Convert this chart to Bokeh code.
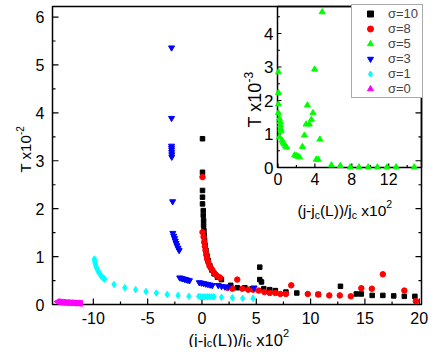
import math
from bokeh.plotting import figure
from bokeh.models import Range1d, Label, Legend, LegendItem
from bokeh.core.properties import value
from bokeh.embed import file_html
from bokeh.resources import INLINE

# ---------------- data ----------------
s10_x = [0.05, 0.05, 0.05, 0.05, 0.05, 0.12, 0.12, 0.15, 0.15, 0.18, 0.21, 0.24, 0.30, 0.37, 0.46, 0.58,
         0.73, 0.91, 1.12, 1.43, 1.79, 2.65, 3.25, 3.95, 4.62, 5.32, 5.32, 5.48, 5.69, 6.24, 6.76, 7.73,
         8.73, 10.71, 12.75, 14.21, 14.67, 15.67, 16.65, 17.65, 18.63, 19.60]
s10_y = [3.46, 2.76, 2.38, 2.24, 2.10, 1.96, 1.86, 1.75, 1.65, 1.54, 1.44, 1.34, 1.23, 1.13, 1.02, 0.92,
         0.81, 0.72, 0.64, 0.57, 0.52, 0.40, 0.35, 0.35, 0.33, 0.78, 0.52, 0.47, 0.33, 0.31, 0.29, 0.26,
         0.24, 0.21, 0.38, 0.22, 0.22, 0.19, 0.19, 0.18, 0.17, 0.17]

s8_x = [0.05, 0.05, 0.15, 0.21, 0.27, 0.33, 0.39, 0.48, 0.58, 0.69, 0.82, 0.97, 1.12, 1.28, 1.49, 1.67,
        2.34, 2.80, 3.25, 3.71, 4.26, 4.71, 5.23, 5.75, 6.24, 6.76, 7.21, 7.73, 8.22, 9.74, 10.71,
        11.72, 12.69, 13.70, 14.67, 15.64, 16.65, 18.63, 19.69]
s8_y = [2.66, 1.51, 1.41, 1.30, 1.21, 1.13, 1.04, 0.95, 0.88, 0.81, 0.76, 0.71, 0.66, 0.62, 0.58, 0.56,
        0.35, 0.33, 0.52, 0.33, 0.31, 0.31, 0.29, 0.26, 0.24, 0.24, 0.22, 0.22, 0.40, 0.22, 0.21,
        0.19, 0.19, 0.17, 0.34, 0.33, 0.63, 0.29, 0.07]

s5_x = [0.05, 0.05, 0.05, 0.05, 0.16, 0.23, 0.27, 0.30, 0.34, 0.16, 0.45, 0.55, 0.66, 0.80, 0.94,
        1.80, 1.97, 2.15, 2.33, 2.65, 2.87, 3.05, 3.19, 3.40, 3.62, 3.79, 3.97, 4.15, 4.36, 4.54,
        4.79, 5.79, 6.75, 7.82, 8.78, 9.78, 10.77, 11.80, 12.80, 14.76]
s5_y = [2.85, 2.23, 1.89, 1.63, 1.46, 1.36, 1.26, 1.16, 1.09, 0.91, 0.81, 0.75, 0.70, 0.64, 0.60,
        0.37, 0.35, 0.33, 0.31, 0.62, 0.96, 1.29, 1.86, 1.29, 1.43, 1.63, 2.93, 0.24, 0.24, 0.84,
        4.64, 0.07, 0.05, 0.01, 0.01, 0.01, 0.01, 0.01, 0.01, 0.01]

s3_x = [-2.80, -2.80, -2.80, -2.80, -2.79, -2.79, -2.78, -2.78, -2.70, -2.68, -2.60, -2.52, -2.45,
        -2.38, -2.30, -2.20, -2.10, -2.05, -1.90, -1.75, -1.60, -1.45, -1.30, -1.15, -0.25, -0.05,
        0.15, 0.35, 0.55, 0.75, 0.95, 1.50, 1.80, 2.10, 2.40, 4.80]
s3_y = [5.36, 3.89, 3.31, 3.27, 3.23, 3.18, 3.13, 3.08, 2.15, 1.49, 1.43, 1.38, 1.33, 1.28, 1.23,
        1.18, 1.13, 0.56, 0.55, 0.54, 0.53, 0.52, 0.51, 0.50, 0.46, 0.45, 0.44, 0.43, 0.42, 0.41,
        0.40, 0.40, 0.38, 0.37, 0.37, 0.35]

s1_x = [-9.90, -9.88, -9.85, -9.80, -9.74, -9.67, -9.60, -9.52, -9.44, -9.35, -9.26, -9.16, -9.05,
        -8.95, -8.10, -7.10, -6.10, -5.15, -4.20, -3.20, -2.20, -1.20, -0.30, -0.10, 0.10, 0.30,
        0.50, 0.70, 0.90, 1.10, 1.80, 2.80, 3.75, 4.70]
s1_y = [0.95, 0.91, 0.87, 0.83, 0.79, 0.75, 0.71, 0.68, 0.65, 0.62, 0.59, 0.57, 0.55, 0.53, 0.42,
        0.35, 0.31, 0.27, 0.24, 0.21, 0.19, 0.17, 0.17, 0.16, 0.16, 0.16, 0.16, 0.16, 0.16, 0.16,
        0.15, 0.14, 0.13, 0.13]

s0_x = [-13.30, -13.17, -13.05, -12.93, -12.80, -12.68, -12.55, -12.43, -12.30, -12.18, -12.05,
        -11.93, -11.80, -11.68, -11.55, -11.43, -11.30, -11.15]
s0_y = [0.06, 0.055, 0.05, 0.05, 0.045, 0.045, 0.04, 0.04, 0.04, 0.035, 0.035, 0.035, 0.03, 0.03,
        0.03, 0.03, 0.025, 0.025]

legend_labels = ["σ=10", "σ=8", "σ=5", "σ=3", "σ=1", "σ=0"]

main_xticks = [-10, -5, 0, 5, 10, 15, 20]
main_xminor = [-12.5, -7.5, -2.5, 2.5, 7.5, 12.5, 17.5]
main_yticks = [0, 1, 2, 3, 4, 5, 6]
main_yminor = [0.5, 1.5, 2.5, 3.5, 4.5, 5.5]
inset_xticks = [0, 4, 8, 12]
inset_xminor = [2, 6, 10, 14]
inset_yticks = [0, 1, 2, 3, 4]
inset_yminor = [0.5, 1.5, 2.5, 3.5, 4.5]

FONT = "Liberation Sans"

# ---------------- geometry (picture pixels, canvas origin at 0,0) ----------------
W, H = 428, 347
CL, CT = 0, 0
XR = (-13.76, 20.21)      # main axes box
YR = (0.0, 6.22)
ML, MR, MT, MB = 52, 421, 6, 304
IXR = (-0.05, 15.55)      # inset axes box
IYR = (0.0, 4.806)
IL, IR, IT, IB = 277, 421, 6, 167

KX = (MR - ML) / (XR[1] - XR[0])
KY = (MB - MT) / (YR[1] - YR[0])
IKX = (IR - IL) / (IXR[1] - IXR[0])
IKY = (IB - IT) / (IYR[1] - IYR[0])


def mx(px): return XR[0] + (px - ML) / KX
def my(py): return YR[0] + (MB - py) / KY
def ix(px): return IXR[0] + (px - IL) / IKX
def iy(py): return IYR[0] + (IB - py) / IKY


p = figure(width=W, height=H,
           x_range=Range1d(mx(CL), mx(CL + W)), y_range=Range1d(my(CT + H), my(CT)),
           x_axis_location=None, y_axis_location=None,
           output_backend="svg", toolbar_location=None,
           min_border=0, min_border_left=0, min_border_right=0, min_border_top=0,
           min_border_bottom=0, background_fill_color="white", border_fill_color="white")
p.extra_x_ranges = {"ix": Range1d(ix(CL), ix(CL + W))}
p.extra_y_ranges = {"iy": Range1d(iy(CT + H), iy(CT))}
p.grid.visible = False
p.outline_line_color = None

AX = dict(line_color="black", line_width=1.5)
TK = dict(line_color="black", line_width=1.2)

# ---- main axes box, ticks, tick labels ----
p.quad(left=XR[0], right=XR[1], bottom=YR[0], top=YR[1], fill_color=None, **AX)
tx = main_xticks + main_xminor
tl = [6] * len(main_xticks) + [3] * len(main_xminor)
p.segment(x0=tx, y0=[YR[0]] * len(tx), x1=tx, y1=[YR[0] + l / KY for l in tl], **TK)
ty = main_yticks + main_yminor
tyl = [6] * len(main_yticks) + [3] * len(main_yminor)
p.segment(x0=[XR[0]] * len(ty), y0=ty, x1=[XR[0] + l / KX for l in tyl], y1=ty, **TK)
p.segment(x0=[XR[1]] * len(ty), y0=ty, x1=[XR[1] - l / KX for l in tyl], y1=ty, **TK)
p.text(x=main_xticks, y=[my(MB + 7)] * len(main_xticks), text=[str(v) for v in main_xticks],
       text_font=value(FONT), text_font_size="16px", text_align="center", text_baseline="top",
       text_color="black")
p.text(x=[mx(ML - 8)] * len(main_yticks), y=main_yticks, text=[str(v) for v in main_yticks],
       text_font=value(FONT), text_font_size="16px", text_align="right", text_baseline="middle",
       text_color="black")

# ---- inset axes box, ticks, tick labels ----
I = dict(x_range_name="ix", y_range_name="iy")
p.quad(left=IXR[0], right=IXR[1], bottom=IYR[0], top=IYR[1], fill_color=None, **AX, **I)
itx = inset_xticks + inset_xminor
itl = [4] * len(inset_xticks) + [2.5] * len(inset_xminor)
p.segment(x0=itx, y0=[IYR[0]] * len(itx), x1=itx, y1=[IYR[0] + l / IKY for l in itl], **TK, **I)
ity = inset_yticks + inset_yminor
ityl = [4] * len(inset_yticks) + [2.5] * len(inset_yminor)
p.segment(x0=[IXR[0]] * len(ity), y0=ity, x1=[IXR[0] + l / IKX for l in ityl], y1=ity, **TK, **I)
p.text(x=inset_xticks, y=[iy(IB + 5)] * len(inset_xticks), text=[str(v) for v in inset_xticks],
       text_font=value(FONT), text_font_size="16px", text_align="center", text_baseline="top",
       text_color="black", **I)
p.text(x=[ix(IL - 4)] * len(inset_yticks), y=inset_yticks, text=[str(v) for v in inset_yticks],
       text_font=value(FONT), text_font_size="17px", text_align="right", text_baseline="middle",
       text_color="black", **I)

# ---- data ----
r10 = p.scatter(s10_x, s10_y, marker="square", size=4.5, color="black")
r8 = p.scatter(s8_x, s8_y, marker="circle", size=5.5, color="#ff0000")
r3 = p.scatter(s3_x, s3_y, marker="inverted_triangle", size=6, color="#0000ff")
r1 = p.scatter(s1_x, s1_y, marker="diamond", size=6.5, color="#00ffff")
r0 = p.scatter(s0_x, s0_y, marker="triangle", angle=math.pi / 2, size=6, color="#ff00ff")
g5 = p.scatter(s5_x, s5_y, marker="triangle", size=6, color="#00ff00", **I)

LEG_W, LEG_H = 70, 92
legend = Legend(items=[LegendItem(label=lab, renderers=[r])
                       for lab, r in zip(legend_labels, [r10, r8, g5, r3, r1, r0])],
                location=(IR - LEG_W - CL, (CT + H) - (IT + LEG_H)), margin=0, padding=1,
                spacing=0, glyph_width=34, glyph_height=15, label_height=15, label_width=33,
                label_standoff=1, label_text_font=FONT, label_text_font_size="13px",
                border_line_color="#555555", border_line_width=1,
                background_fill_color="white", background_fill_alpha=1)
p.add_layout(legend)

# ---- axis titles (rich text) ----
WIDTHS = {'(': 333, ')': 333, 'j': 222, '-': 333, 'c': 500, 'L': 556, '/': 278, ' ': 278,
          'x': 500, 'T': 611}


def tw(text, size):
    return sum(WIDTHS.get(ch, 556) for ch in text) * size / 1000.0


def rich_h(runs, x_px, base_py):
    for text, size, dy in runs:
        lead = len(text) - len(text.lstrip(" "))
        x_px += tw(" " * lead, size)
        text = text.lstrip(" ")
        p.add_layout(Label(x=mx(x_px), y=my(base_py + dy), text=text, text_font=FONT,
                           text_font_size=f"{size}px", text_align="left",
                           text_baseline="alphabetic", text_color="black"))
        x_px += tw(text, size)


def rich_v(runs, base_px, y_px):
    for text, size, dx in runs:
        p.add_layout(Label(x=mx(base_px + dx), y=my(y_px), text=text, text_font=FONT,
                           text_font_size=f"{size}px", text_align="left",
                           text_baseline="alphabetic", angle=math.pi / 2, text_color="black"))
        y_px -= tw(text, size)


rich_h([("(j-j", 16.5, 0), ("c", 11, 3), ("(L))/j", 16.5, 0), ("c", 11, 3), (" x10", 16.5, 0),
        ("2", 11, -7)], 188, 339)
rich_v([("T x10", 15, 0), ("-2", 10, -6)], 25, 172)
rich_h([("(j-j", 15.5, 0), ("c", 10.5, 4), ("(L))/j", 15.5, 0), ("c", 10.5, 4),
        (" x10", 15.5, 0), ("2", 10.5, -7)], 297, 210)
rich_v([("T x10", 18, 0), ("-3", 12, -6)], 254, 127)

with open("out.html", "w") as f:
    f.write(file_html(p, INLINE))
